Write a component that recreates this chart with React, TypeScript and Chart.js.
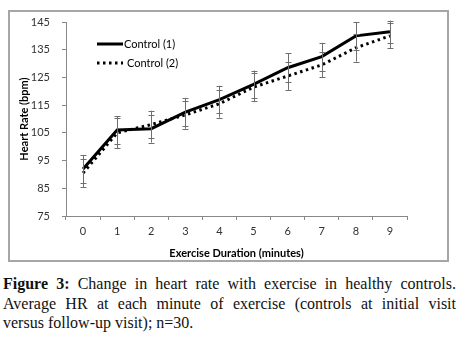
import React, { useEffect, useRef } from "react";
import { Chart, registerables } from "chart.js";

Chart.register(...registerables);

const minutes = ["0", "1", "2", "3", "4", "5", "6", "7", "8", "9"];
const control1 = [92, 106, 106.5, 112.5, 117, 122.5, 128.5, 132.5, 140, 141.5];
const control2 = [90.5, 105, 108, 111.5, 115.5, 121.5, 125.5, 129.5, 135.7, 140];
const err1 = [5, 5, 5, 5, 5, 5, 5.2, 5, 5, 4];
const err2 = [5, 5.5, 5, 5, 5, 5, 5, 4.5, 5, 4.5];
const seriesNames = ["Control (1)", "Control (2)"];
const yTicks = [75, 85, 95, 105, 115, 125, 135, 145];
const captionLines = [
  "Change in heart rate with exercise in healthy controls.",
  "Average HR at each minute of exercise (controls at initial visit",
  "versus follow-up visit); n=30.",
];

const FONT = "Lato, 'Open Sans', sans-serif";

const errorBarPlugin = {
  id: "errorBars",
  afterDatasetsDraw(chart: any) {
    const { ctx } = chart;
    const x = chart.scales.x;
    const y = chart.scales.y;
    const sets = [
      { vals: control1, errs: err1 },
      { vals: control2, errs: err2 },
    ];
    ctx.save();
    ctx.strokeStyle = "#6e6e6e";
    ctx.lineWidth = 1;
    sets.forEach((s) => {
      s.vals.forEach((v, i) => {
        const px = Math.round(x.getPixelForValue(i)) + 0.5;
        const top = y.getPixelForValue(v + s.errs[i]);
        const bot = y.getPixelForValue(v - s.errs[i]);
        ctx.beginPath();
        ctx.moveTo(px, top);
        ctx.lineTo(px, bot);
        ctx.moveTo(px - 3, Math.round(top) + 0.5);
        ctx.lineTo(px + 3, Math.round(top) + 0.5);
        ctx.moveTo(px - 3, Math.round(bot) + 0.5);
        ctx.lineTo(px + 3, Math.round(bot) + 0.5);
        ctx.stroke();
      });
    });
    ctx.restore();
  },
};

const legendPlugin = {
  id: "insideLegend",
  afterDraw(chart: any) {
    const { ctx, chartArea } = chart;
    const x0 = chartArea.left + 31;
    const rows = [chartArea.top + 22, chartArea.top + 41];
    ctx.save();
    ctx.font = `11px ${FONT}`;
    ctx.fillStyle = "#000";
    ctx.textBaseline = "middle";
    ctx.strokeStyle = "#000";
    ctx.lineWidth = 3;
    ctx.beginPath();
    ctx.setLineDash([]);
    ctx.moveTo(x0, rows[0]);
    ctx.lineTo(x0 + 26, rows[0]);
    ctx.stroke();
    ctx.fillText(seriesNames[0], x0 + 27, rows[0]);
    ctx.beginPath();
    ctx.setLineDash([2.5, 3.5]);
    ctx.moveTo(x0, rows[1]);
    ctx.lineTo(x0 + 26, rows[1]);
    ctx.stroke();
    ctx.setLineDash([]);
    ctx.fillText(seriesNames[1], x0 + 30, rows[1]);
    ctx.restore();
  },
};

function HeartChart() {
  const ref = useRef<HTMLCanvasElement | null>(null);
  useEffect(() => {
    if (!ref.current) return;
    const chart = new Chart(ref.current, {
      type: "line",
      data: {
        labels: minutes,
        datasets: [
          {
            label: seriesNames[0],
            data: control1,
            borderColor: "#000",
            borderWidth: 3,
            pointRadius: 0,
            tension: 0,
            fill: false,
          },
          {
            label: seriesNames[1],
            data: control2,
            borderColor: "#000",
            borderWidth: 3,
            borderDash: [2.5, 3.5],
            pointRadius: 0,
            tension: 0,
            fill: false,
          },
        ],
      },
      options: {
        animation: false,
        responsive: false,
        maintainAspectRatio: false,
        layout: { padding: { left: 8, right: 40, top: 10, bottom: 0 } },
        plugins: {
          legend: { display: false },
          title: { display: false },
          tooltip: { enabled: false },
        },
        scales: {
          x: {
            type: "category",
            offset: true,
            grid: {
              drawOnChartArea: false,
              drawTicks: true,
              tickLength: 4,
              color: "#888",
              offset: true,
            },
            border: { color: "#888", width: 1 },
            ticks: {
              color: "#333",
              font: { family: FONT, size: 11 },
              padding: 5,
              maxRotation: 0,
            },
            title: {
              display: true,
              text: "Exercise Duration (minutes)",
              color: "#000",
              font: { family: FONT, size: 11, weight: "bold" },
              padding: { top: 3, bottom: 0 },
            },
            afterFit(scale: any) {
              scale.height = 44;
              scale.paddingLeft = 0;
              scale.paddingRight = 0;
            },
          },
          y: {
            min: 75,
            max: 145,
            afterBuildTicks(scale: any) {
              scale.ticks = yTicks.map((v) => ({ value: v }));
            },
            grid: {
              drawOnChartArea: false,
              drawTicks: true,
              tickLength: 4,
              color: "#888",
            },
            border: { color: "#888", width: 1 },
            ticks: {
              color: "#333",
              font: { family: FONT, size: 11 },
              padding: 12,
            },
            title: {
              display: true,
              text: "Heart Rate (bpm)",
              color: "#000",
              font: { family: FONT, size: 11, weight: "bold" },
              padding: { top: 0, bottom: 0 },
            },
            afterFit(scale: any) {
              scale.width = 48;
              scale.paddingTop = 0;
              scale.paddingBottom = 0;
            },
          },
        },
      },
      plugins: [errorBarPlugin, legendPlugin],
    });
    return () => chart.destroy();
  }, []);
  return <canvas ref={ref} width={437} height={248} style={{ display: "block" }} />;
}

export default function App() {
  const lineStyle = (justify: boolean): React.CSSProperties => ({
    textAlign: "justify",
    textAlignLast: justify ? "justify" : "left",
    whiteSpace: "nowrap",
  });
  return (
    <div
      style={{
        position: "absolute",
        left: 0,
        top: 0,
        width: 460,
        height: 352,
        background: "#fff",
        overflow: "hidden",
      }}
    >
      <div
        style={{
          position: "absolute",
          left: 8,
          top: 10,
          width: 437,
          height: 248,
          border: "2px solid #a6a6a6",
        }}
      >
        <HeartChart />
      </div>
      <div
        style={{
          position: "absolute",
          left: 3,
          top: 274,
          width: 453,
          fontFamily: "'Liberation Serif', 'DejaVu Serif', serif",
          fontSize: 16,
          lineHeight: "19.5px",
          color: "#111",
        }}
      >
        <div style={lineStyle(true)}>
          <b>Figure 3:</b> {captionLines[0]}
        </div>
        <div style={lineStyle(true)}>{captionLines[1]}</div>
        <div style={lineStyle(false)}>{captionLines[2]}</div>
      </div>
    </div>
  );
}
